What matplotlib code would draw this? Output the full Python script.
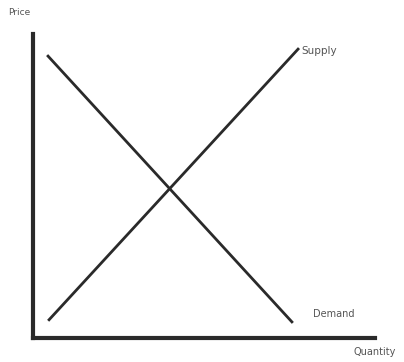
import matplotlib.pyplot as plt

# supply and demand curve end points
demand_x = [0.44, 7.57]
demand_y = [9.27, 0.53]
supply_x = [0.47, 7.75]
supply_y = [0.6, 9.5]

fig = plt.figure(figsize=(4.04, 3.62), dpi=100)
ax = fig.add_axes([0.0817, 0.0663, 0.8465, 0.84])

ax.plot(demand_x, demand_y, color='#2a2a2a', linewidth=2.0)
ax.plot(supply_x, supply_y, color='#2a2a2a', linewidth=2.0)

ax.text(supply_x[1] + 0.1, supply_y[1] - 0.05, 'Supply', fontsize=7.5,
        color='#555555', va='center', ha='left')
ax.text(8.2, 0.78, 'Demand', fontsize=7, color='#555555', va='center', ha='left')

ax.set_xlim(0, 10)
ax.set_ylim(0, 10)
ax.set_xticks([])
ax.set_yticks([])
for s in ['top', 'right']:
    ax.spines[s].set_visible(False)
for s in ['left', 'bottom']:
    ax.spines[s].set_linewidth(3)
    ax.spines[s].set_color('#2a2a2a')

fig.text(0.02, 0.965, 'Price', fontsize=6.5, color='#555555', va='center', ha='left')
fig.text(0.875, 0.027, 'Quantity', fontsize=7, color='#555555', va='center', ha='left')

fig.savefig('out.png', dpi=100)
